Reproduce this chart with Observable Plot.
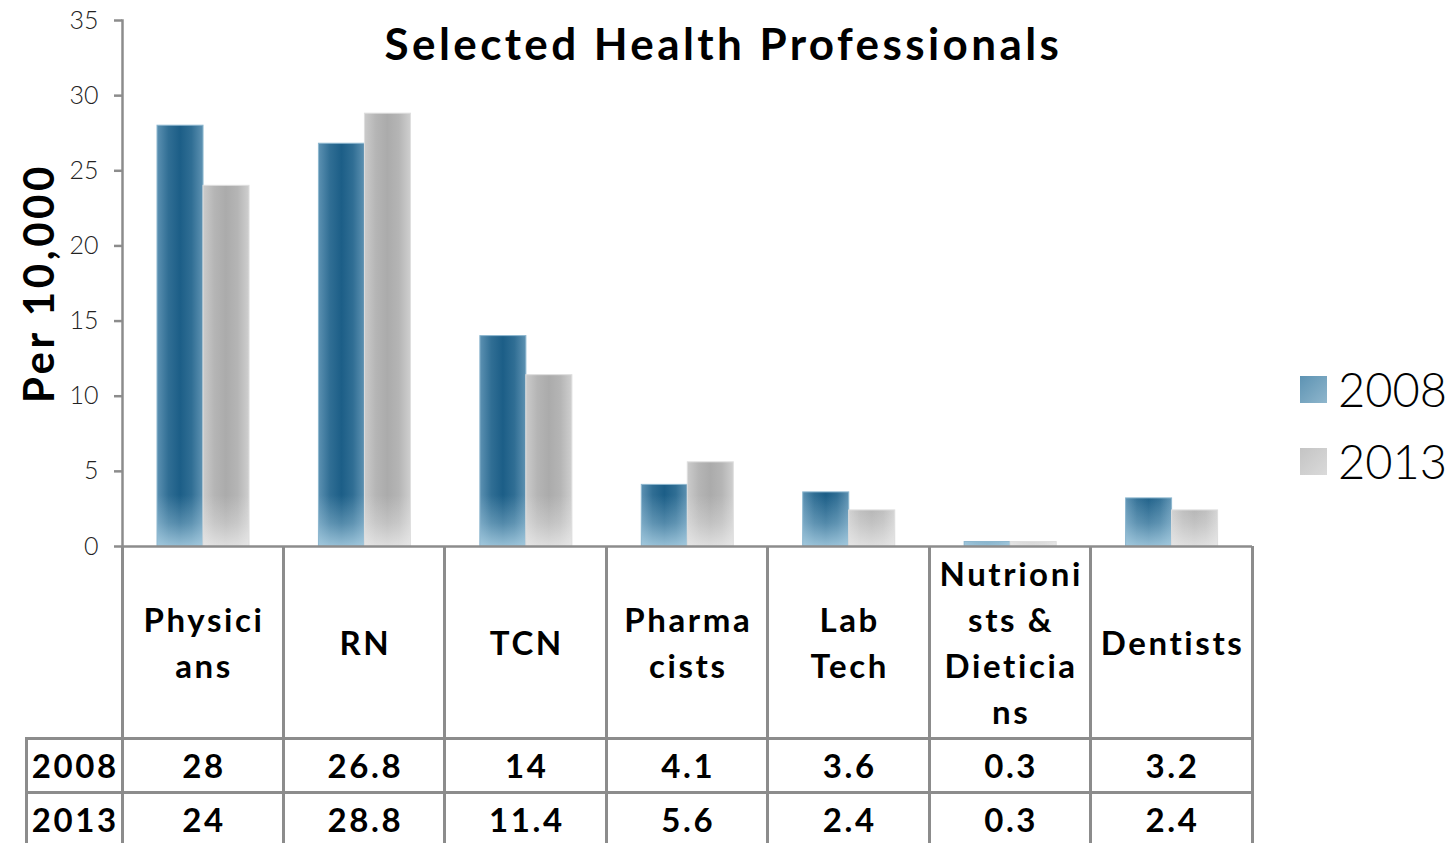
<!DOCTYPE html>
<html>
<head>
<meta charset="utf-8">
<script src="https://cdn.jsdelivr.net/npm/d3@7"></script>
<script src="https://cdn.jsdelivr.net/npm/@observablehq/plot@0.6"></script>
<style>
  html, body { margin: 0; padding: 0; background: #fff; }
  #wrap { position: relative; width: 1450px; height: 843px; overflow: hidden; font-family: Lato, "Open Sans", sans-serif; }
  #chart { position: absolute; left: 0; top: 0; }
  .title { position: absolute; left: 0; width: 1440px; top: 14px; text-align: center; font-weight: 700; font-size: 44px; letter-spacing: 3.4px; padding-left: 3.4px; line-height: 58px; color: #000; }
  .ylab { position: absolute; left: 38px; top: 283px; transform: translate(-50%, -50%) rotate(-90deg); font-weight: 700; font-size: 42px; letter-spacing: 3.6px; white-space: nowrap; color: #000; }
  .leg { position: absolute; left: 1300px; display: flex; align-items: center; }
  .leg .sw { width: 27px; height: 27px; margin-right: 11px; }
  .leg .tx { font-size: 47px; font-weight: 300; line-height: 56px; color: #000; }
  .line { position: absolute; background: #8c8c8c; }
  .cell { position: absolute; display: flex; align-items: center; justify-content: center; text-align: center; font-weight: 700; font-size: 33px; letter-spacing: 2.6px; line-height: 46px; color: #000; }
  .cell span { padding-left: 2.6px; }
</style>
</head>
<body>
<div id="wrap">
  <div id="chart"></div>
</div>
<script>
const categories = ["Physicians", "RN", "TCN", "Pharmacists", "Lab Tech", "Nutrionists & Dieticians", "Dentists"];
const tableLabels = [["Physici", "ans"], ["RN"], ["TCN"], ["Pharma", "cists"], ["Lab", "Tech"], ["Nutrioni", "sts &", "Dieticia", "ns"], ["Dentists"]];
const years = ["2008", "2013"];
const values2008 = [28, 26.8, 14, 4.1, 3.6, 0.3, 3.2];
const values2013 = [24, 28.8, 11.4, 5.6, 2.4, 0.3, 2.4];
const yTicks = [0, 5, 10, 15, 20, 25, 30, 35];
const titleText = "Selected Health Professionals";
const yLabel = "Per 10,000";

const rows2008 = categories.map((c, i) => ({cat: c, year: years[0], v: values2008[i]}));
const rows2013 = categories.map((c, i) => ({cat: c, year: years[1], v: values2013[i]}));

const plot = Plot.plot({
  width: 1450,
  height: 562,
  marginLeft: 122,
  marginRight: 198,
  marginTop: 20,
  marginBottom: 16,
  style: {background: "transparent", color: "#000", fontFamily: "Lato, sans-serif"},
  x: {domain: categories, padding: 0, round: false, axis: null},
  y: {domain: [0, 35], axis: null},
  marks: [
    Plot.barY(rows2008, {x: "cat", y: "v", fill: "url(#g2008)", insetLeft: 35, insetRight: 80.4}),
    Plot.barY(rows2008, {x: "cat", y: "v", fill: "url(#fadeBlue)", stroke: "#8db7cf", strokeWidth: 1, insetLeft: 35, insetRight: 80.4}),
    Plot.barY(rows2013, {x: "cat", y: "v", fill: "url(#g2013)", insetLeft: 81, insetRight: 34.4}),
    Plot.barY(rows2013, {x: "cat", y: "v", fill: "url(#fadeGrey)", stroke: "#dedede", strokeWidth: 1, insetLeft: 81, insetRight: 34.4}),
    Plot.axisY({ticks: yTicks, tickSize: 8, tickPadding: 16, fontSize: 25, stroke: "#8c8c8c", strokeWidth: 2.5, fill: "#222", label: null, fontWeight: 300}),
    Plot.frame({anchor: "left", stroke: "#8c8c8c", strokeWidth: 2.5}),
    Plot.ruleY([0], {stroke: "#8c8c8c", strokeWidth: 2.5})
  ]
});

// gradients
const svg = d3.select(plot);
const defs = svg.insert("defs", ":first-child");
function hgrad(id, stops) {
  const g = defs.append("linearGradient").attr("id", id).attr("x1", "0").attr("x2", "1").attr("y1", "0").attr("y2", "0");
  stops.forEach(([o, c]) => g.append("stop").attr("offset", o).attr("stop-color", c));
}
hgrad("g2008", [["0%", "#5c91b2"], ["25%", "#306e94"], ["50%", "#1c5e87"], ["75%", "#306e94"], ["100%", "#5e92b2"]]);
hgrad("g2013", [["0%", "#cbcbcb"], ["25%", "#b5b5b5"], ["50%", "#ababab"], ["75%", "#b5b5b5"], ["100%", "#cfcfcf"]]);
function vfade(id, color, op) {
  const g = defs.append("linearGradient").attr("id", id).attr("gradientUnits", "userSpaceOnUse")
    .attr("x1", 0).attr("x2", 0).attr("y1", 495).attr("y2", 546);
  g.append("stop").attr("offset", "0%").attr("stop-color", color).attr("stop-opacity", 0);
  g.append("stop").attr("offset", "55%").attr("stop-color", color).attr("stop-opacity", op * 0.45);
  g.append("stop").attr("offset", "100%").attr("stop-color", color).attr("stop-opacity", op);
}
vfade("fadeBlue", "#b3d6e8", 0.8);
vfade("fadeGrey", "#eeeeee", 0.75);

document.getElementById("chart").appendChild(plot);

const wrap = document.getElementById("wrap");
function el(cls, css, html) {
  const d = document.createElement("div");
  d.className = cls;
  Object.assign(d.style, css);
  if (html != null) d.innerHTML = html;
  wrap.appendChild(d);
  return d;
}

// Title, y label
el("title", {}, titleText);
el("ylab", {}, yLabel);

// legend
[[years[0], "linear-gradient(135deg, #5d93b3, #8fb6cc)", 375], [years[1], "linear-gradient(135deg, #c4c4c4, #dadada)", 447]].forEach(([t, bg, top]) => {
  const l = el("leg", {top: (top - 14) + "px"});
  const sw = document.createElement("div"); sw.className = "sw"; sw.style.background = bg;
  const tx = document.createElement("div"); tx.className = "tx"; tx.textContent = t;
  l.appendChild(sw); l.appendChild(tx);
});

// data table
const xs = plot.scale("x");
const bw = xs.bandwidth;
const edges = categories.map(c => xs.apply(c)).concat([xs.apply(categories[categories.length - 1]) + bw]);
const top0 = 546, rowH = [192, 54, 54];
const tableLeft = 26, lw = 3;
const rowTops = [top0, top0 + rowH[0], top0 + rowH[0] + rowH[1]];
edges.forEach(x => el("line", {left: (x - lw / 2) + "px", top: top0 + "px", width: lw + "px", height: (843 - top0) + "px"}));
el("line", {left: (tableLeft - lw / 2) + "px", top: rowTops[1] + "px", width: lw + "px", height: (843 - rowTops[1]) + "px"});
[rowTops[1], rowTops[2], rowTops[2] + rowH[2]].forEach(y => el("line", {left: (tableLeft - lw / 2) + "px", top: (y - lw / 2) + "px", width: (edges[edges.length - 1] - tableLeft + lw / 2) + "px", height: lw + "px"}));

const span = s => "<span>" + s + "</span>";
categories.forEach((c, i) => {
  el("cell", {left: edges[i] + "px", top: rowTops[0] + "px", width: bw + "px", height: rowH[0] + "px"}, span(tableLabels[i].join("<br>")));
  el("cell", {left: edges[i] + "px", top: rowTops[1] + "px", width: bw + "px", height: rowH[1] + "px"}, span(String(values2008[i])));
  el("cell", {left: edges[i] + "px", top: rowTops[2] + "px", width: bw + "px", height: rowH[2] + "px"}, span(String(values2013[i])));
});
el("cell", {left: tableLeft + "px", top: rowTops[1] + "px", width: (edges[0] - tableLeft) + "px", height: rowH[1] + "px"}, span(years[0]));
el("cell", {left: tableLeft + "px", top: rowTops[2] + "px", width: (edges[0] - tableLeft) + "px", height: rowH[2] + "px"}, span(years[1]));
</script>
</body>
</html>
